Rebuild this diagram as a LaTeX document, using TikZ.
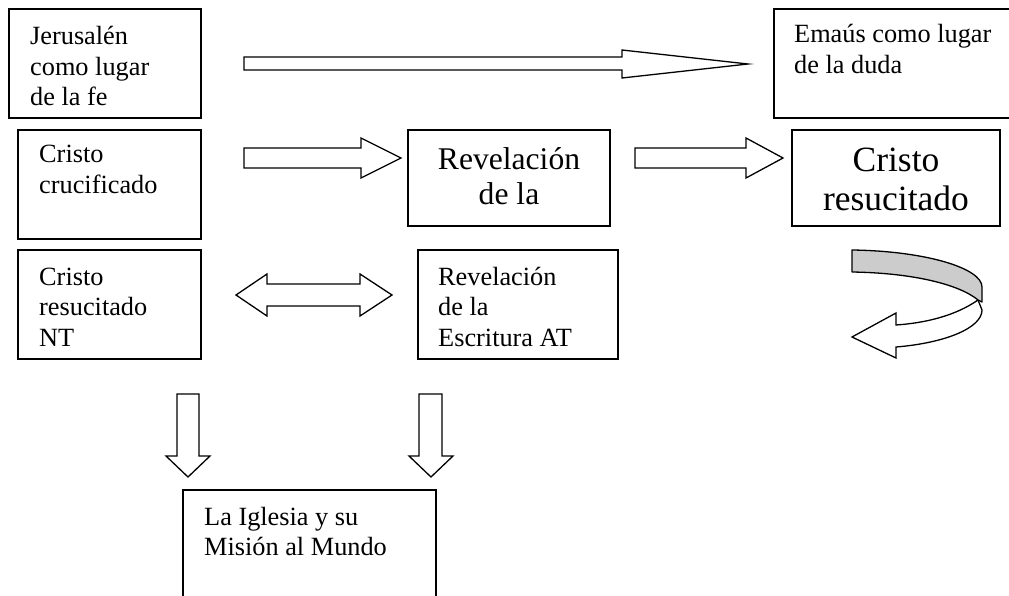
\documentclass[tikz,border=0pt]{standalone}
\usepackage{fontspec}
\setmainfont{Liberation Serif}
\newcommand{\lns}[1]{\begin{tabular}[t]{@{}l@{}}#1\end{tabular}}
\newcommand{\lnc}[1]{\begin{tabular}[t]{@{}c@{}}#1\end{tabular}}
\begin{document}
\begin{tikzpicture}[x=1pt,y=-1pt,
  box/.style={draw=black,line width=1.3pt,rectangle,inner sep=0pt},
  txt/.style={inner sep=0pt,anchor=base west,font=\fontsize{26.3}{30.5}\selectfont},
  midtxt/.style={inner sep=0pt,anchor=base,font=\fontsize{31.6}{35}\selectfont},
  bigtxt/.style={inner sep=0pt,anchor=base,font=\fontsize{35.5}{39}\selectfont},
  barrow/.style={draw=black,line width=1.3pt,fill=white,line join=miter},
  twist/.style={draw=black,line width=1.3pt,fill=black!20,line join=round}]
\useasboundingbox (0,0) rectangle (1009,596);
% boxes
\node[box,minimum width=192pt,minimum height=109pt] (jer) at (105,63.5) {};
\node[box,minimum width=183pt,minimum height=109pt] (cruc) at (109.5,184.5) {};
\node[box,minimum width=241pt,minimum height=109pt] (ema) at (894.5,63.5) {};
\node[box,minimum width=202pt,minimum height=96pt] (rev) at (509,178) {};
\node[box,minimum width=208pt,minimum height=96pt] (res) at (896,178) {};
\node[box,minimum width=183pt,minimum height=109pt] (nt) at (109.5,304.5) {};
\node[box,minimum width=200pt,minimum height=109pt] (at) at (518,304.5) {};
\node[box,minimum width=253pt,minimum height=120pt] (igl) at (309.5,550) {};
% texts
\node[txt] (jert) at (30,45) {\lns{Jerusalén\\como lugar\\de la fe}};
\node[txt] (cruct) at (39,163) {\lns{Cristo\\crucificado}};
\node[txt] (emat) at (794,43) {\lns{Emaús como lugar\\de la duda}};
\node[midtxt] (revt) at (509,170) {\lnc{Revelación\\de la}};
\node[bigtxt] (rest) at (896,172) {\lnc{Cristo\\resucitado}};
\node[txt] (ntt) at (39,285) {\lns{Cristo\\resucitado\\NT}};
\node[txt] (att) at (438,285) {\lns{Revelación\\de la\\Escritura AT}};
\node[txt] (iglt) at (204,525) {\lns{La Iglesia y su\\Misión al Mundo}};
% block arrows
\draw[barrow] (244,57) -- (622,57) -- (622,50) -- (748,64) -- (622,78) -- (622,70) -- (244,70) -- cycle;
\draw[barrow] (244,148) -- (361,148) -- (361,138) -- (401,158) -- (361,178) -- (361,168) -- (244,168) -- cycle;
\draw[barrow] (635,148) -- (746,148) -- (746,138) -- (783,158) -- (746,178) -- (746,168) -- (635,168) -- cycle;
\draw[barrow] (236,295) -- (267,274) -- (267,284) -- (360,284) -- (360,274) -- (392,295) -- (360,316) -- (360,306) -- (267,306) -- (267,316) -- cycle;
\draw[barrow] (177,394) -- (199,394) -- (199,456) -- (210,456) -- (188,477) -- (166,456) -- (177,456) -- cycle;
\draw[barrow] (419,394) -- (442,394) -- (442,456) -- (453,456) -- (431,477) -- (409,456) -- (419,456) -- cycle;
% curved arrow
\draw[barrow] (978,300) .. controls (955,316) and (925,323) .. (896,325) -- (896,313) -- (852,337) -- (896,358) -- (896,347) .. controls (945,343) and (982,328) .. (982,310) -- cycle;
\draw[twist] (852,250) .. controls (925,251) and (982,268) .. (982,287) -- (982,302) -- (978,300) .. controls (960,285) and (915,273) .. (852,272) -- cycle;
\end{tikzpicture}
\end{document}
